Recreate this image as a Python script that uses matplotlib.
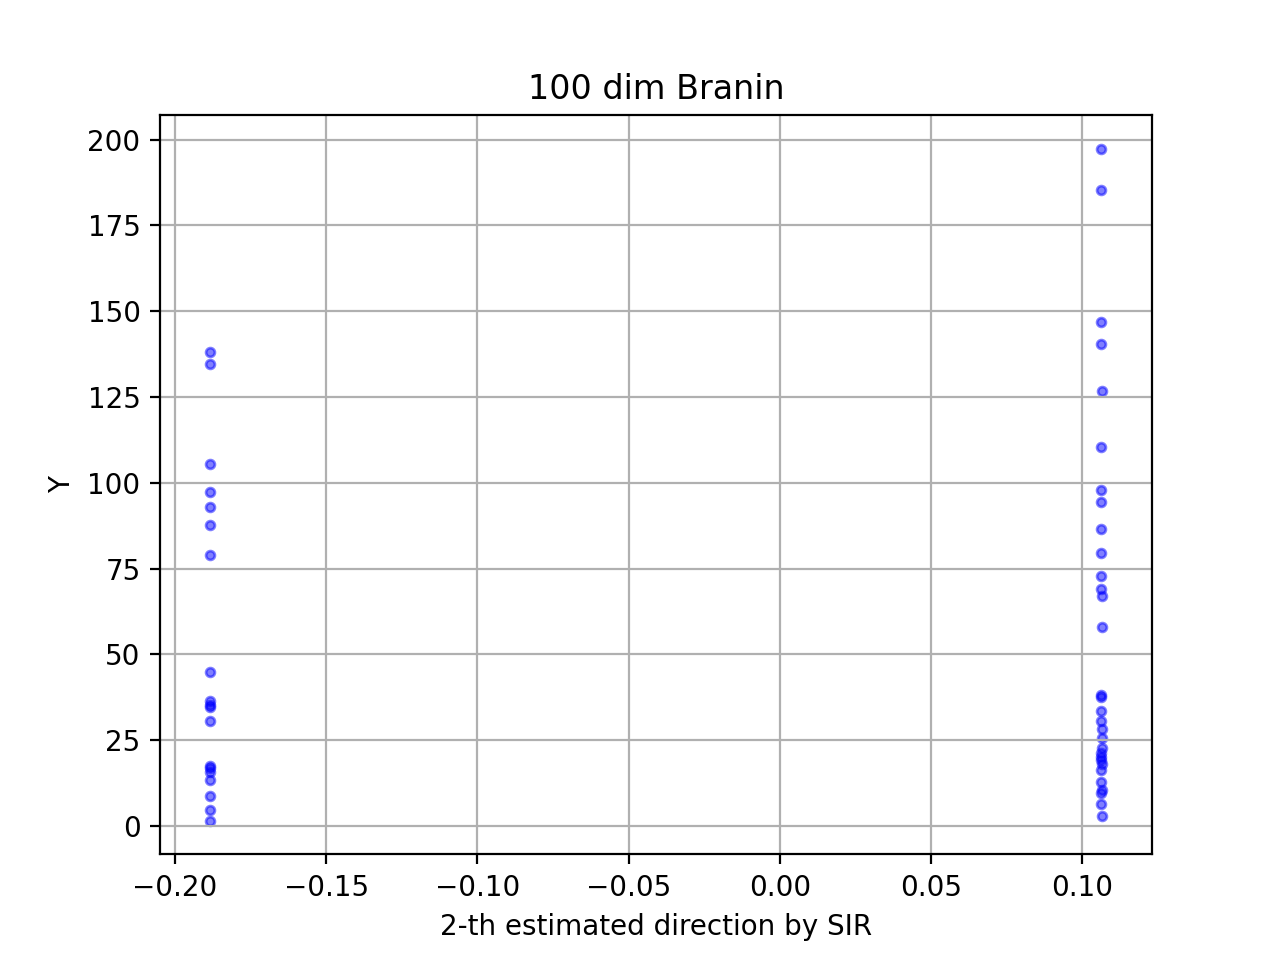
import matplotlib
matplotlib.use("Agg")
import matplotlib.pyplot as plt

left_x = [-0.1884, -0.1884, -0.1884, -0.1883, -0.1884, -0.1884, -0.1884,
          -0.1884, -0.1883, -0.1884, -0.1883, -0.1884, -0.1883, -0.1883,
          -0.1884, -0.1884, -0.1884, -0.1884, -0.1884]
left_y = [138.2, 134.7, 105.5, 97.4, 93.0, 87.8, 79.0,
          45.0, 36.5, 35.3, 34.6, 30.6, 17.5, 16.8,
          15.8, 13.4, 8.8, 4.7, 1.5]

right_x = [0.1063, 0.1063, 0.1063, 0.1062, 0.1065, 0.1062, 0.1062, 0.1063,
           0.1062, 0.1062, 0.1062, 0.1063, 0.1064, 0.1065, 0.1062, 0.1063,
           0.1062, 0.1062, 0.1064, 0.1064, 0.1064, 0.1063, 0.1062, 0.1062,
           0.1064, 0.1063, 0.1062, 0.1064, 0.1063, 0.1062, 0.1064]
right_y = [197.3, 185.3, 146.8, 140.4, 126.8, 110.4, 98.0, 94.5,
           86.5, 79.5, 72.7, 69.1, 66.9, 57.9, 37.7, 38.2,
           33.5, 30.6, 28.2, 25.5, 22.6, 21.2, 20.2, 19.2,
           18.0, 16.3, 12.9, 10.5, 9.7, 6.3, 2.9]

fig, ax = plt.subplots(figsize=(6.4, 4.8), dpi=200)
ax.scatter(left_x + right_x, left_y + right_y, c='b', s=10, alpha=0.5)
ax.set_xlim(-0.2050, 0.1231)
ax.set_title("100 dim Branin")
ax.set_xlabel("2-th estimated direction by SIR")
ax.set_ylabel("Y")
ax.grid(True)
fig.savefig("out.png", dpi=200)
